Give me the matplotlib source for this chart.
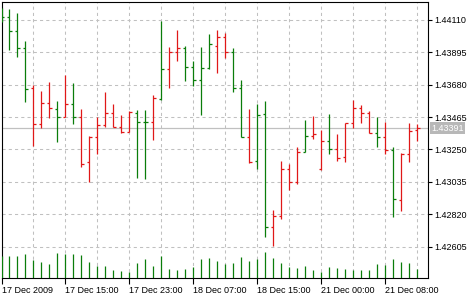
import matplotlib
matplotlib.use("Agg")
import matplotlib.pyplot as plt
import matplotlib.transforms as mtransforms

plt.rcParams['font.family'] = ['Liberation Sans', 'DejaVu Sans']

# ---------- data: hourly EURUSD-style bars ----------
opens = [1.44150, 1.44132, 1.44037, 1.43922, 1.43657, 1.43420, 1.43557, 1.43517, 1.43468, 1.43550,
         1.43468, 1.43165, 1.43335, 1.43413, 1.43491, 1.43398, 1.43368, 1.43491, 1.43435, 1.43435,
         1.43586, 1.43783, 1.43896, 1.43922, 1.43796, 1.43712, 1.43789, 1.43937, 1.43995, 1.43896,
         1.43657, 1.43331, 1.43176, 1.43484, 1.42738, 1.42809, 1.43119, 1.43037, 1.43236, 1.43340,
         1.43119, 1.43309, 1.43252, 1.43202, 1.43428, 1.43524, 1.43491, 1.43362, 1.43335, 1.43247,
         1.42915, 1.43220, 1.43380]
highs = [1.44190, 1.44183, 1.44154, 1.43971, 1.43678, 1.43641, 1.43700, 1.43572, 1.43745, 1.43694,
         1.43519, 1.43338, 1.43468, 1.43634, 1.43552, 1.43479, 1.43506, 1.43512, 1.43512, 1.43612,
         1.44105, 1.43933, 1.44044, 1.43937, 1.43838, 1.43931, 1.44017, 1.44044, 1.44022, 1.43922,
         1.43712, 1.43519, 1.43550, 1.43572, 1.42849, 1.43174, 1.43154, 1.43269, 1.43446, 1.43473,
         1.43380, 1.43486, 1.43351, 1.43428, 1.43579, 1.43546, 1.43506, 1.43468, 1.43435, 1.43269,
         1.43225, 1.43424, 1.43418]
lows = [1.44097, 1.43911, 1.43862, 1.43568, 1.43275, 1.43391, 1.43457, 1.43302, 1.43464, 1.43420,
        1.43136, 1.43037, 1.43220, 1.43402, 1.43398, 1.43358, 1.43364, 1.43063, 1.43054, 1.43313,
        1.43579, 1.43661, 1.43838, 1.43707, 1.43674, 1.43479, 1.43787, 1.43760, 1.43856, 1.43634,
        1.43331, 1.43159, 1.43119, 1.42671, 1.42610, 1.42787, 1.42981, 1.43021, 1.43234, 1.43318,
        1.43114, 1.43220, 1.43176, 1.43169, 1.43391, 1.43428, 1.43362, 1.43269, 1.43220, 1.42800,
        1.42844, 1.43169, 1.43307]
closes = [1.44132, 1.44037, 1.43922, 1.43650, 1.43420, 1.43557, 1.43524, 1.43464, 1.43550, 1.43464,
          1.43154, 1.43335, 1.43413, 1.43491, 1.43398, 1.43364, 1.43497, 1.43435, 1.43435, 1.43590,
          1.43783, 1.43896, 1.43922, 1.43796, 1.43712, 1.43789, 1.43949, 1.43995, 1.43896, 1.43657,
          1.43331, 1.43169, 1.43479, 1.42738, 1.42809, 1.43119, 1.43037, 1.43236, 1.43340, 1.43351,
          1.43309, 1.43252, 1.43192, 1.43428, 1.43524, 1.43491, 1.43362, 1.43335, 1.43247, 1.42920,
          1.43220, 1.43373, 1.43391]
# bar colour group as shown in the terminal: 'g' green, 'r' red
bar_type = list("ggggrrrgrg" "rrrrrrrggr" "grrggggrrg" "grggrrrrgr" "rgrrrrrgrg" "rrr")
volumes = [2200, 2230, 2230, 2400, 1760, 1630, 1430, 2530, 2430, 2430,
           2330, 1630, 1230, 1230, 830, 730, 560, 1530, 1930, 1230,
           2230, 930, 830, 930, 1060, 1930, 2030, 1730, 1430, 1530,
           2130, 1730, 1930, 2630, 2030, 1530, 1130, 1030, 1230, 830,
           630, 1130, 1030, 930, 830, 830, 830, 1430, 1330, 1930,
           1630, 1530, 930]
tick_idx = [0, 8, 16, 24, 32, 40, 48]
tick_labels = ["17 Dec 2009", "17 Dec 15:00", "17 Dec 23:00", "18 Dec 07:00",
               "18 Dec 15:00", "21 Dec 00:00", "21 Dec 08:00"]
price_ticks = [1.42605, 1.42820, 1.43035, 1.43250, 1.43465, 1.43680, 1.43895, 1.44110]

GREEN = '#0a7d0a'
RED = '#e01818'
GRID = '#c0c0c0'

fig = plt.figure(figsize=(4.7, 3.0), dpi=100)
ax = fig.add_axes([1.5 / 470, 22 / 300, 426.5 / 470, 276 / 300])
ax2 = ax.twinx()   # volume overlay (twinx resets ticks, so make it first)

n = len(opens)
x = list(range(n))
cols = [GREEN if t == 'g' else RED for t in bar_type]
w = 0.36

# grid
ax.set_xticks(tick_idx)
ax.set_xticks([i for i in range(4, n, 8)], minor=True)
ax.set_yticks(price_ticks)
ax.grid(which='both', color=GRID, linestyle=(0, (3, 3)), linewidth=0.75)
ax.set_axisbelow(True)

# current price line
ax.axhline(closes[-1], color=GRID, linewidth=0.9, zorder=1)

# OHLC bars
ax.vlines(x, lows, highs, colors=cols, linewidth=0.9, zorder=3)
ax.hlines(opens, [i - w for i in x], x, colors=cols, linewidth=0.9, zorder=3)
ax.hlines(closes, x, [i + w for i in x], colors=cols, linewidth=0.9, zorder=3)

ax.set_xlim(0.0, 53.32)
ax.set_ylim(1.42397, 1.44229)

ax.set_xticklabels(tick_labels)
for lbl in ax.get_xticklabels():
    lbl.set_ha('left')
ax.set_yticklabels(['%.5f' % p for p in price_ticks])
ax.yaxis.tick_right()
ax.tick_params(axis='y', which='both', right=True, left=False, labelright=True, labelleft=False,
               length=3, width=0.8, pad=1.5, labelsize=6.5, colors='black')
ax.tick_params(axis='x', which='major', length=4, width=0.8, pad=1.5, labelsize=6.5)
ax.tick_params(axis='x', which='minor', length=0)
for s in ax.spines.values():
    s.set_color('black')
    s.set_linewidth(0.8)

# price label box
trans = mtransforms.blended_transform_factory(ax.transAxes, ax.transData)
ax2.text(1.0075, closes[-1], '%.5f' % closes[-1], transform=trans, ha='left', va='center',
         fontsize=6.5, color='white',
         bbox=dict(boxstyle='square,pad=0.15', facecolor='#b8b8b8', edgecolor='none'),
         clip_on=False, zorder=5)

# volumes
ax2.vlines(x, 0, volumes, colors=GREEN, linewidth=0.9)
ax2.set_ylim(0, 27600)
ax2.set_yticks([])
ax2.tick_params(axis='y', which='both', left=False, right=False, labelleft=False, labelright=False)
for s in ax2.spines.values():
    s.set_visible(False)

fig.savefig('out.png', dpi=100)
